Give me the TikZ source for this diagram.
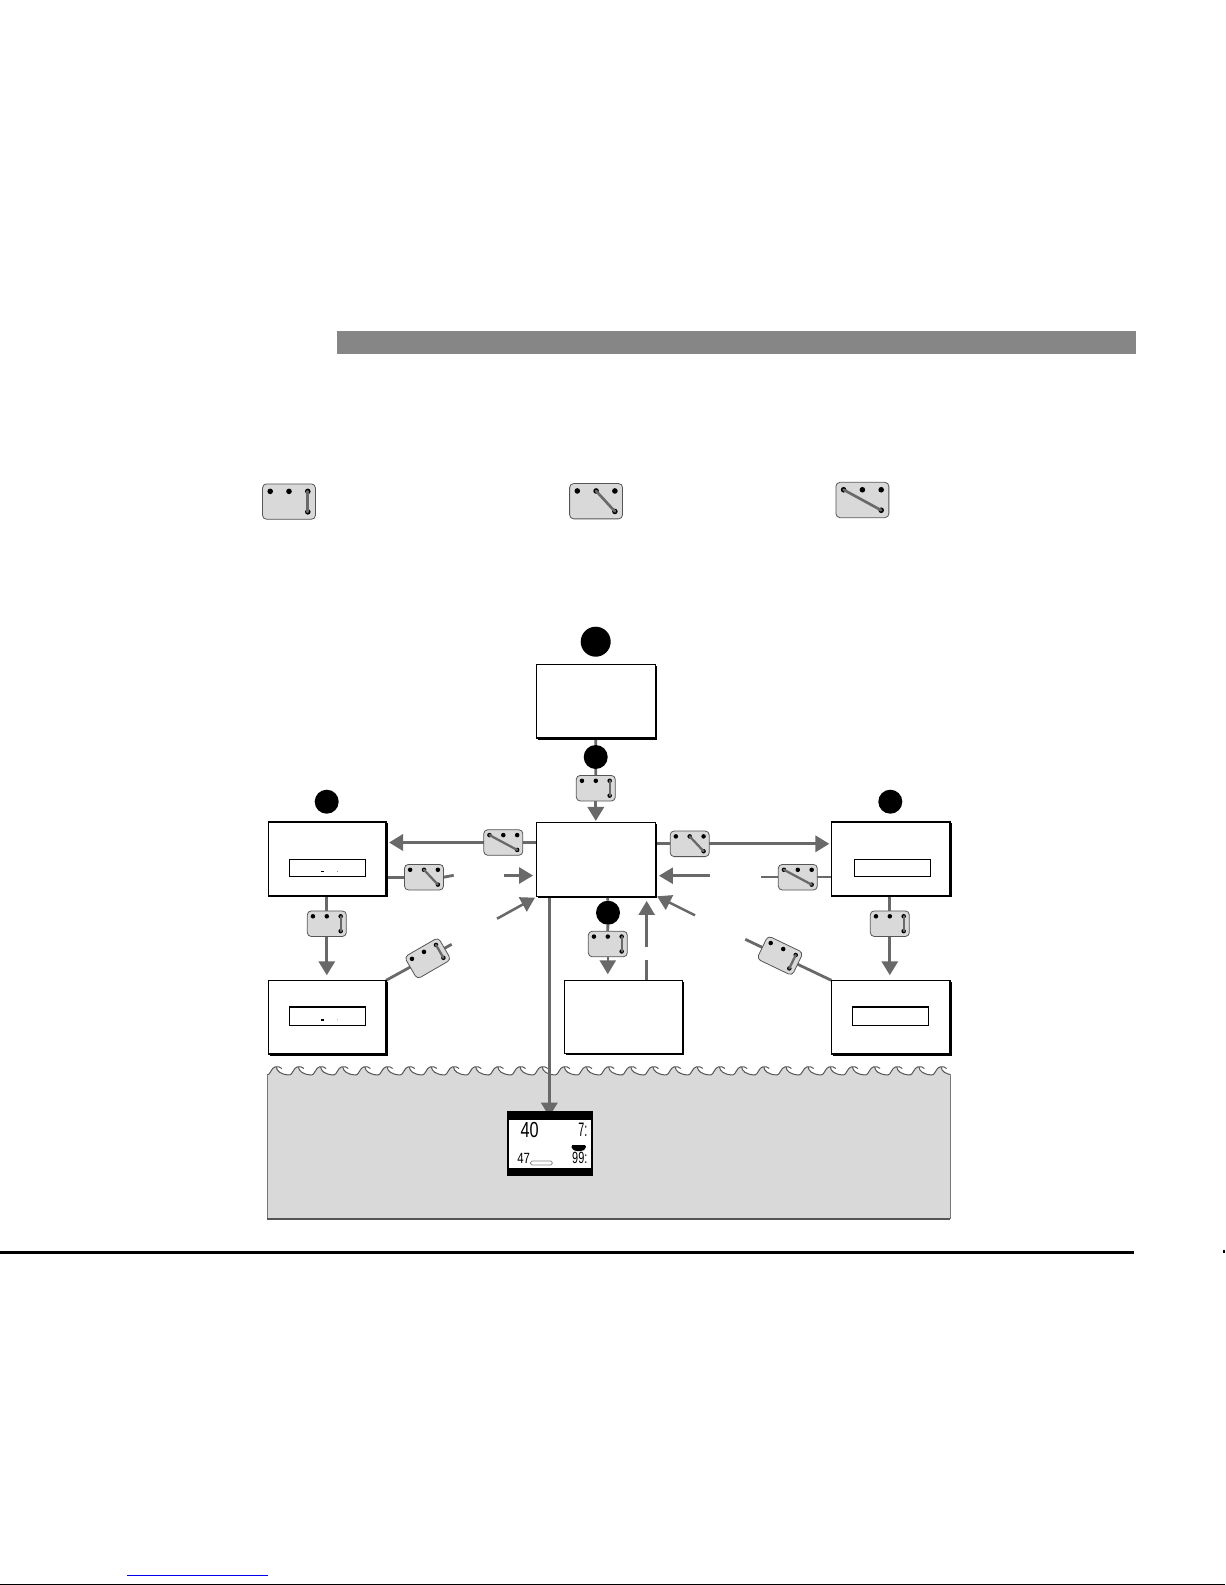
\documentclass[tikz,border=0pt]{standalone}
\usepackage{fontspec}
\setmainfont{Liberation Sans}
\usetikzlibrary{arrows.meta,calc,shadows}
\definecolor{wire}{HTML}{696969}
\definecolor{swfill}{HTML}{D9D9D9}
\definecolor{swedge}{HTML}{555555}
\definecolor{headbar}{HTML}{868686}
\definecolor{linkblue}{HTML}{0000EE}
\pgfdeclarelayer{waterlayer}
\pgfdeclarelayer{wirelayer}
\pgfsetlayers{waterlayer,wirelayer,main}
\tikzset{
  unitbox/.style={draw=black,fill=white,line width=1.1pt,inner sep=0pt,outer sep=0pt,
    general shadow={fill=black,shadow xshift=1.1pt,shadow yshift=-1.1pt}},
  readout/.style={draw=black,fill=white,line width=1pt,inner sep=0pt,outer sep=0pt},
  blob/.style={circle,fill=black,inner sep=0pt,outer sep=0pt},
  swbody/.style={draw=swedge,fill=swfill,rounded corners=3pt,line width=0.6pt,inner sep=0pt,outer sep=0pt},
  wireline/.style={draw=wire,line width=2.1pt},
  thinwire/.style={draw=wire,line width=1.8pt},
  arrowline/.style={draw=wire,line width=2.5pt,-{Triangle[length=10.5pt,width=12pt]}},
  shortarrow/.style={draw=wire,line width=1.9pt,-{Triangle[length=10.5pt,width=12pt]}},
  lcd/.style={inner sep=0pt,outer sep=0pt,text=black},
}
\newcommand{\swpt}[3]{($($(#1.north west)!#2!(#1.north east)$)!#3!($(#1.south west)!#2!(#1.south east)$)$)}
% name, cx, cy, rot, rod top position, w(px*.75), h, dot radius, rod width
\newcommand{\swgeneric}[9]{%
  \node[swbody,rotate=#4,minimum width=#6,minimum height=#7] (#1) at (#2,#3) {};
  \fill \swpt{#1}{0.145}{0.21} circle (#8);
  \fill \swpt{#1}{0.5}{0.21} circle (#8);
  \fill \swpt{#1}{0.855}{0.21} circle (#8);
  \fill \swpt{#1}{0.855}{0.79} circle (#8);
  \draw[wire,line width=#9,line cap=round] \swpt{#1}{#5}{0.21} -- \swpt{#1}{0.855}{0.79};
}
\newcommand{\swS}[5]{\swgeneric{#1}{#2}{#3}{#4}{#5}{29.3pt}{19.2pt}{1.7pt}{1.7pt}}
\newcommand{\swL}[4]{\swgeneric{#1}{#2}{#3}{0}{#4}{39.7pt}{26.5pt}{2.1pt}{2pt}}
\begin{document}
\begin{tikzpicture}[x=0.75pt,y=-0.75pt]
\useasboundingbox (0,0) rectangle (1225,1585);
% page furniture
\node[fill=headbar,inner sep=0pt,outer sep=0pt,minimum width=599.025pt,minimum height=17.25pt] (headerbar) at (736.35,342.5) {};
\fill[black] (0,1251) rectangle (1134,1254.3);
\fill[black] (1223.3,1250) rectangle (1225,1253);
\fill[linkblue] (127.3,1574.6) rectangle (268,1576);
\fill[black] (0,1583.6) rectangle (1225,1585);
% legend
\swL{legA}{289}{501.6}{0.855}
\swL{legB}{596.1}{501.2}{0.5}
\swL{legC}{862.4}{500}{0.145}
% water
\begin{pgfonlayer}{waterlayer}
\fill[swfill] (267.2,1075) rectangle (950,1219);
\draw[swedge!80,line width=0.6pt] (267.2,1075) -- (267.2,1219);
\draw[swedge!80,line width=0.6pt] (950,1075) -- (950,1219);
\draw[swedge,line width=1pt] (267.2,1219) -- (950,1219);
\begin{scope}
\clip (266,1050) rectangle (950.5,1080);
\foreach \i in {0,...,30}{
  \begin{scope}[xshift=\i*22.16*0.75pt]
    \fill[swfill] (267.3,1075.3) .. controls (270.3,1075) and (271.3,1067.5) .. (275.3,1066.8)
       -- (276.3,1067) .. controls (276.8,1071) and (280.3,1074.5) .. (289.46,1075.3) -- cycle;
    \draw[swedge,line width=0.75pt] (267.3,1075) .. controls (270.3,1075) and (271.3,1067.5) .. (275.3,1066.8)
       .. controls (277.3,1066.4) and (280.3,1066.5) .. (281.8,1068.5);
    \draw[swedge,line width=0.75pt] (276.3,1067) .. controls (276.8,1071) and (280.3,1074.5) .. (289.46,1075);
  \end{scope}
}
\end{scope}
\end{pgfonlayer}
% units
\node[unitbox,minimum width=88.95pt,minimum height=55.3pt] (top) at (596,701.2) {};
\node[unitbox,minimum width=88.95pt,minimum height=55.5pt] (cen) at (596,859.3) {};
\node[unitbox,minimum width=88.3pt,minimum height=55.5pt] (la) at (327.2,859) {};
\node[unitbox,minimum width=88.3pt,minimum height=55.3pt] (lb) at (327.2,1017.2) {};
\node[unitbox,minimum width=88.5pt,minimum height=55.05pt] (bot) at (623.3,1017) {};
\node[unitbox,minimum width=89pt,minimum height=55.5pt] (ra) at (890.7,859) {};
\node[unitbox,minimum width=89pt,minimum height=55.3pt] (rb) at (890.7,1017.2) {};
\node[readout,minimum width=57.3pt,minimum height=13pt] (lai) at (327.5,868) {};
\node[readout,minimum width=57.3pt,minimum height=14pt] (lbi) at (327.5,1016.4) {};
\node[readout,minimum width=57pt,minimum height=13pt] (rai) at (892.3,868) {};
\node[readout,minimum width=57pt,minimum height=14pt] (rbi) at (890.7,1016.4) {};
\fill[black] (320.8,870.6) rectangle (323.8,871.6);
\fill[black!45] (336.8,870.6) rectangle (337.8,871.6);
\fill[black] (320.8,1019) rectangle (323.8,1021);
\fill[black!30] (336.8,1019.4) rectangle (337.8,1020.4);
% blobs
\node[blob,minimum size=22.5pt] (bt) at (595.7,641.7) {};
\node[blob,minimum size=18pt] (bu) at (595.7,757) {};
\node[blob,minimum size=18pt] (bc) at (608,912.7) {};
\node[blob,minimum size=18pt] (bl) at (326.7,801.7) {};
\node[blob,minimum size=18pt] (br) at (890.3,801.7) {};
% switches
\swS{swT}{595.8}{788.2}{0}{0.855}
\swS{swC}{503.3}{842.5}{0}{0.145}
\swS{swD}{424}{877.2}{0}{0.5}
\swS{swE}{326.8}{923.7}{0}{0.855}
\swS{swF}{427.7}{958.3}{30}{0.855}
\swS{swB}{607.8}{944}{0}{0.855}
\swS{swR}{689.7}{843.8}{0}{0.5}
\swS{swQ}{797.8}{877.2}{0}{0.145}
\swS{swU}{889.8}{923.7}{0}{0.855}
\swS{swV}{780}{955.7}{-25.6}{0.855}
% display
\node[fill=black,inner sep=0pt,outer sep=0pt,minimum width=64.05pt,minimum height=48.5pt] (disp) at (550,1143.35) {};
\node[fill=white,inner sep=0pt,outer sep=0pt,minimum width=61.5pt,minimum height=35.8pt] (dispw) at (550,1143.85) {};
\node[lcd,font=\fontsize{16.3pt}{16.3pt}\selectfont] (d40) at (529.7,1130.5) {\scalebox{0.75}[1]{40}};
\node[lcd,font=\fontsize{14.6pt}{14.6pt}\selectfont] (d7) at (582.8,1129.7) {\scalebox{0.55}[1]{7:}};
\node[lcd,font=\fontsize{11.1pt}{11.1pt}\selectfont] (d47) at (523.7,1158.7) {\scalebox{0.77}[1]{47}};
\node[lcd,font=\fontsize{12.2pt}{12.2pt}\selectfont] (d99) at (579.8,1158.2) {\scalebox{0.67}[1]{99:}};
\node[draw=wire!80,fill=white,rounded corners=1.2pt,line width=0.6pt,inner sep=0pt,outer sep=0pt,minimum width=16.4pt,minimum height=3pt] (dbar) at (541.4,1163) {};
\fill[black,rounded corners=1pt] (571.3,1145) -- (586,1145) -- (585.5,1149) -- (582,1151) -- (575.5,1151) -- (572,1149) -- cycle;
% free ends
\coordinate (fD) at (453.7,875.3);
\coordinate (fQ) at (761,877.2);
\coordinate (fF) at (451.7,944.3);
\coordinate (fV) at (745.3,939.3);
\coordinate (inLtail) at (504,875.5);
\coordinate (inRtail) at (710,875.7);
\coordinate (dgLtail) at (497,918.7);
\coordinate (dgLtip) at (535,897.7);
\coordinate (dgRtail) at (695,915.3);
\coordinate (dgRtip) at (657,896.3);
\coordinate (upA) at (646.7,960);
\coordinate (upB) at (646.7,946.7);
\begin{pgfonlayer}{wirelayer}
\draw[wireline] (swT.north|-top.south) -- (bu) -- (swT.north);
\draw[arrowline,shorten >=1pt] (swT.south) -- (swT.south|-cen.north);
\draw[wireline] (swC.east|-swC.center) -- (cen.west|-swC.center);
\draw[arrowline,shorten >=2.2pt] (swC.west) -- (la.east|-swC.west);
\draw[wireline] (la.east|-swD.center) -- (swD.west);
\draw[wireline] (swD.east) -- (fD);
\draw[wireline] (swE.north|-la.south) -- (swE.north);
\draw[arrowline,shorten >=3.8pt] (swE.south) -- (swE.south|-lb.north);
\draw[wireline] (lb.north east) -- (fF);
\draw[shortarrow,shorten >=2.7pt] (inLtail) -- (inLtail-|cen.west);
\draw[shortarrow,shorten >=2.7pt] (inRtail) -- (inRtail-|cen.east);
\draw[shortarrow] (dgLtail) -- (dgLtip);
\draw[shortarrow] (dgRtail) -- (dgRtip);
\draw[wireline] (swB.north|-cen.south) -- (bc) -- (swB.north);
\draw[shortarrow,shorten >=4.5pt] (swB.south) -- (swB.south|-bot.north);
\draw[shortarrow,shorten >=3.5pt] (upB) -- (upB|-cen.south);
\draw[wireline] (upA|-bot.north) -- (upA);
\draw[wireline] (cen.east|-swR.center) -- (swR.west);
\draw[arrowline,shorten >=1.5pt] (swR.east) -- (ra.west|-swR.east);
\draw[thinwire] (ra.west|-swQ.center) -- (swQ.east);
\draw[thinwire] (swQ.west) -- (fQ);
\draw[wireline] (swU.north|-ra.south) -- (swU.north);
\draw[arrowline,shorten >=3.8pt] (swU.south) -- (swU.south|-rb.north);
\draw[wireline] (rb.north west) -- (fV);
\coordinate (cdrop) at (549.3,896.3);
\draw[wire,line width=2.3pt,-{Triangle[length=10.5pt,width=12pt]}] (cdrop) -- (cdrop|-disp.north) -- ++(0,5.7);
\end{pgfonlayer}
\end{tikzpicture}
\end{document}
